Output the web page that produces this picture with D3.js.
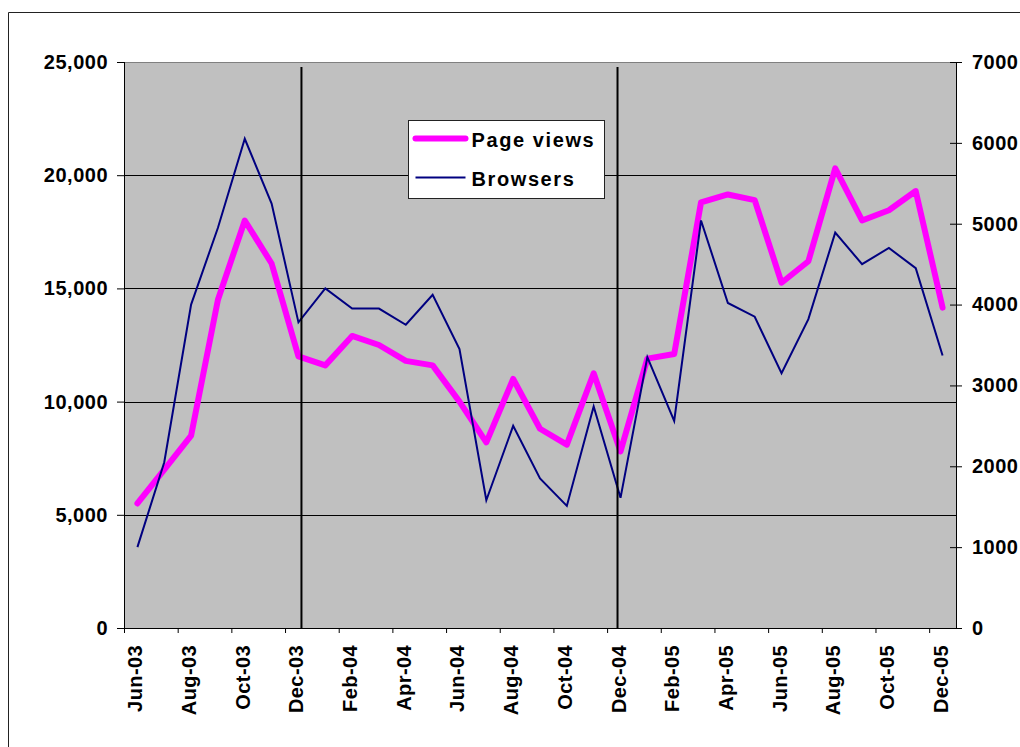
<!DOCTYPE html>
<html>
<head>
<meta charset="utf-8">
<script src="https://cdn.jsdelivr.net/npm/d3@7"></script>
<style>
  html, body { margin: 0; padding: 0; background: #fff; }
  svg { display: block; font-family: "Liberation Sans", Arial, sans-serif; }
</style>
</head>
<body>
<svg id="chart" width="1020" height="747"></svg>
<script>
// ---- data ----
const months = ["Jun-03","Jul-03","Aug-03","Sep-03","Oct-03","Nov-03","Dec-03",
  "Jan-04","Feb-04","Mar-04","Apr-04","May-04","Jun-04","Jul-04","Aug-04","Sep-04","Oct-04","Nov-04","Dec-04",
  "Jan-05","Feb-05","Mar-05","Apr-05","May-05","Jun-05","Jul-05","Aug-05","Sep-05","Oct-05","Nov-05","Dec-05"];
const pageViews = [5500, 7000, 8500, 14500, 18000, 16100, 12000,
  11600, 12900, 12500, 11800, 11600, 10000, 8200, 11000, 8800, 8100, 11250, 7800,
  11900, 12100, 18800, 19150, 18900, 15250, 16200, 20300, 18000, 18450, 19300, 14150];
const browsers = [1000, 2050, 4000, 4950, 6050, 5250, 3780,
  4200, 3950, 3950, 3750, 4120, 3450, 1580, 2500, 1850, 1510, 2740, 1610,
  3350, 2560, 5040, 4020, 3850, 3150, 3820, 4890, 4500, 4700, 4450, 3370];
const leftTicks = [0, 5000, 10000, 15000, 20000, 25000];
const rightTicks = [0, 1000, 2000, 3000, 4000, 5000, 6000, 7000];
const yearMarkers = ["Dec-03", "Dec-04"];
const seriesNames = ["Page views", "Browsers"];

// ---- layout ----
const L = 124, R = 956, T = 62, B = 628;
const svg = d3.select("#chart");

const x = d3.scaleBand().domain(months).range([L, R]).padding(0);
const xi = d3.scaleLinear().domain([0, months.length]).range([L, R]);
const cx = m => x(m) + x.bandwidth() / 2;
const yL = d3.scaleLinear().domain([0, 25000]).range([B, T]);
const yR = d3.scaleLinear().domain([0, 7000]).range([B, T]);

// outer frame (left & top edges visible)
svg.append("path").attr("d", "M8.5,747V12.5H1020")
  .attr("fill", "none").attr("stroke", "#222").attr("stroke-width", 1);

// plot background
svg.append("rect").attr("x", L).attr("y", T).attr("width", R - L).attr("height", B - T)
  .attr("fill", "#c0c0c0");

// gridlines
svg.append("g").selectAll("line").data(leftTicks.filter(v => v > 0 && v < 25000)).join("line")
  .attr("x1", L).attr("x2", R)
  .attr("y1", d => Math.round(yL(d)) + 0.5).attr("y2", d => Math.round(yL(d)) + 0.5)
  .attr("stroke", "#000").attr("stroke-width", 1);
// top border
svg.append("line").attr("x1", L).attr("x2", R).attr("y1", T + 0.5).attr("y2", T + 0.5)
  .attr("stroke", "#808080");

// left axis
const axL = svg.append("g").attr("transform", `translate(${L},0)`)
  .call(d3.axisLeft(yL).tickValues(leftTicks).tickSize(7).tickPadding(9).tickFormat(d3.format(",")));
// right axis
const axR = svg.append("g").attr("transform", `translate(${R},0)`)
  .call(d3.axisRight(yR).tickValues(rightTicks).tickSize(6).tickPadding(10).tickFormat(d3.format("d")));
axR.selectAll(".tick line").attr("x1", -6).attr("x2", 6);
// bottom axis (ticks every two categories)
const axB = svg.append("g").attr("transform", `translate(0,${B})`)
  .call(d3.axisBottom(xi).tickValues(d3.range(0, months.length, 2)).tickSize(5).tickFormat(""));

[axL, axR, axB].forEach(a => {
  a.selectAll(".domain").attr("stroke", "#000").attr("stroke-width", 1);
  a.selectAll(".tick line").attr("stroke", "#000");
  a.selectAll("text").attr("font-family", "'Liberation Sans', Arial, sans-serif")
    .attr("font-size", 20).attr("font-weight", "bold").attr("fill", "#000")
    .attr("letter-spacing", "0.5px");
});
axB.select(".domain").attr("d", `M${L},0.5H${R}`);
axR.select(".domain").attr("d", `M0.5,${T}V${B}`);
axL.select(".domain").attr("d", `M0.5,${T}V${B}`);

// x category labels (every other month)
svg.append("g").selectAll("text").data(months.filter((m, i) => i % 2 === 0)).join("text")
  .attr("transform", d => `translate(${cx(d) + 5},${B + 17}) rotate(-90)`)
  .attr("text-anchor", "end")
  .attr("font-size", 20).attr("font-weight", "bold").attr("letter-spacing", "0.4px")
  .text(d => d);

// series
const linePV = d3.line().x((d, i) => cx(months[i])).y(d => yL(d));
const lineBR = d3.line().x((d, i) => cx(months[i])).y(d => yR(d));
svg.append("path").datum(pageViews).attr("d", linePV)
  .attr("fill", "none").attr("stroke", "#ff00ff").attr("stroke-width", 6)
  .attr("stroke-linejoin", "round").attr("stroke-linecap", "round");
svg.append("path").datum(browsers).attr("d", lineBR)
  .attr("fill", "none").attr("stroke", "#000080").attr("stroke-width", 2)
  .attr("stroke-linejoin", "miter");

// year separator lines
const markerOffset = { "Dec-03": 3, "Dec-04": -3 };
svg.append("g").selectAll("line").data(yearMarkers).join("line")
  .attr("x1", d => cx(d) + markerOffset[d]).attr("x2", d => cx(d) + markerOffset[d])
  .attr("y1", T + 5).attr("y2", B)
  .attr("stroke", "#000").attr("stroke-width", 2);

// legend
const lg = svg.append("g").attr("transform", "translate(408.5,120.5)");
lg.append("rect").attr("width", 196).attr("height", 78)
  .attr("fill", "#fff").attr("stroke", "#222").attr("stroke-width", 1);
lg.append("line").attr("x1", 7).attr("x2", 57).attr("y1", 18).attr("y2", 18)
  .attr("stroke", "#ff00ff").attr("stroke-width", 6).attr("stroke-linecap", "round");
lg.append("line").attr("x1", 7).attr("x2", 57).attr("y1", 57).attr("y2", 57)
  .attr("stroke", "#000080").attr("stroke-width", 2);
lg.selectAll("text").data(seriesNames).join("text")
  .attr("x", 63).attr("y", (d, i) => 26 + i * 39)
  .attr("font-size", 20).attr("font-weight", "bold").attr("letter-spacing", "1.6px")
  .text(d => d);
</script>
</body>
</html>
